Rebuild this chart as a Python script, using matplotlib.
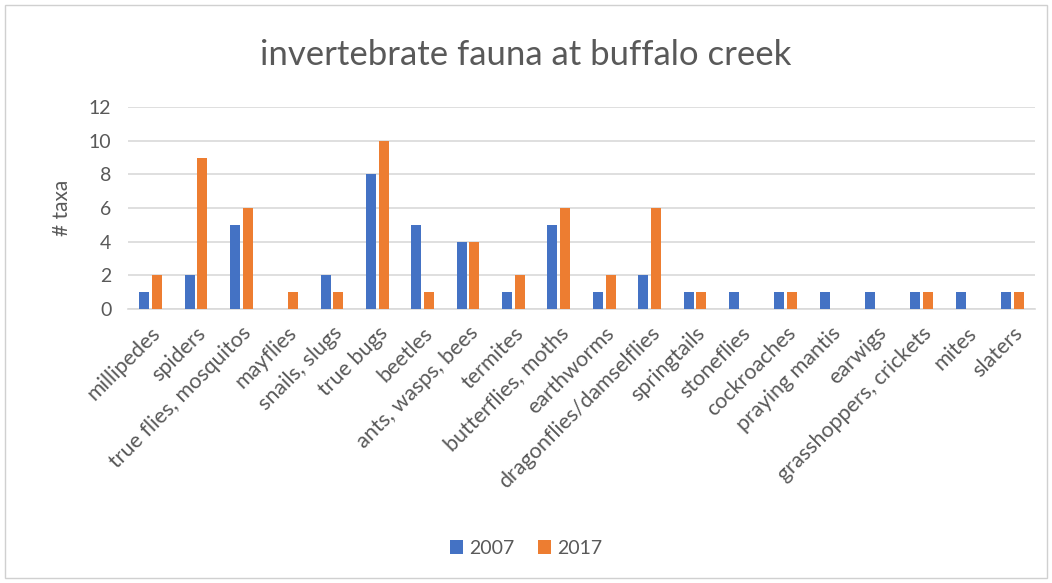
import matplotlib
matplotlib.use("Agg")
import matplotlib.pyplot as plt
import numpy as np
from matplotlib.patches import Rectangle

categories = ["millipedes", "spiders", "true flies, mosquitos", "mayflies", "snails, slugs",
              "true bugs", "beetles", "ants, wasps, bees", "termites", "butterflies, moths",
              "earthworms", "dragonflies/damselflies", "springtails", "stoneflies", "cockroaches",
              "praying mantis", "earwigs", "grasshoppers, crickets", "mites", "slaters"]
v2007 = [1, 2, 5, 0, 2, 8, 5, 4, 1, 5, 1, 2, 1, 1, 1, 1, 1, 1, 1, 1]
v2017 = [2, 9, 6, 1, 1, 10, 1, 4, 2, 6, 2, 6, 1, 0, 1, 0, 0, 1, 0, 1]
series_names = ["2007", "2017"]
yticks = [0, 2, 4, 6, 8, 10, 12]

plt.rcParams['font.family'] = ['Lato', 'DejaVu Sans']
fig = plt.figure(figsize=(10.52, 5.83), dpi=100)
n = len(categories)
left = 128 / 1052
right = 1035 / 1052
ax = fig.add_axes([left, 1 - 309 / 583, right - left, (309 - 107) / 583])

x = np.arange(n)
w = 0.22
gap = 0.06
ax.bar(x - (w + gap) / 2, v2007, width=w, color="#4472C4", label=series_names[0], zorder=3)
ax.bar(x + (w + gap) / 2, v2017, width=w, color="#ED7D31", label=series_names[1], zorder=3)

ax.set_xlim(-0.5, n - 0.5)
ax.set_ylim(0, 12)
ax.set_yticks(yticks)
ax.yaxis.grid(True, color="#d9d9d9", linewidth=1.2, zorder=0)
ax.set_axisbelow(True)
for s in ["top", "right", "left"]:
    ax.spines[s].set_visible(False)
ax.spines["bottom"].set_color("#d9d9d9")
ax.spines["bottom"].set_linewidth(1.2)
ax.tick_params(axis="both", length=0, colors="#595959", labelsize=14)
ax.tick_params(axis="y", pad=12)
ax.tick_params(axis="x", pad=10)
ax.set_xticks(x)
ax.set_xticklabels(categories, rotation=45, ha="right", rotation_mode="anchor", fontsize=15.5, color="#595959")
ax.set_ylabel("# taxa", fontsize=15, color="#595959", labelpad=12)

fig.text(0.5, 1 - 55 / 583, "invertebrate fauna at buffalo creek", ha="center", va="center",
         fontsize=25, color="#595959")

handles, labels = ax.get_legend_handles_labels()
fig.legend(handles, labels, loc="center", bbox_to_anchor=(0.5, 1 - 548 / 583), ncol=2,
           frameon=False, fontsize=14, handlelength=0.7, handleheight=0.7, handletextpad=0.3,
           columnspacing=1.2, labelcolor="#595959")

fig.patches.append(Rectangle((5 / 1052, 5 / 583), 1 - 10 / 1052, 1 - 10 / 583, transform=fig.transFigure,
                             fill=False, edgecolor="#d0d0d0", linewidth=1))
fig.savefig("out.png", dpi=100)
